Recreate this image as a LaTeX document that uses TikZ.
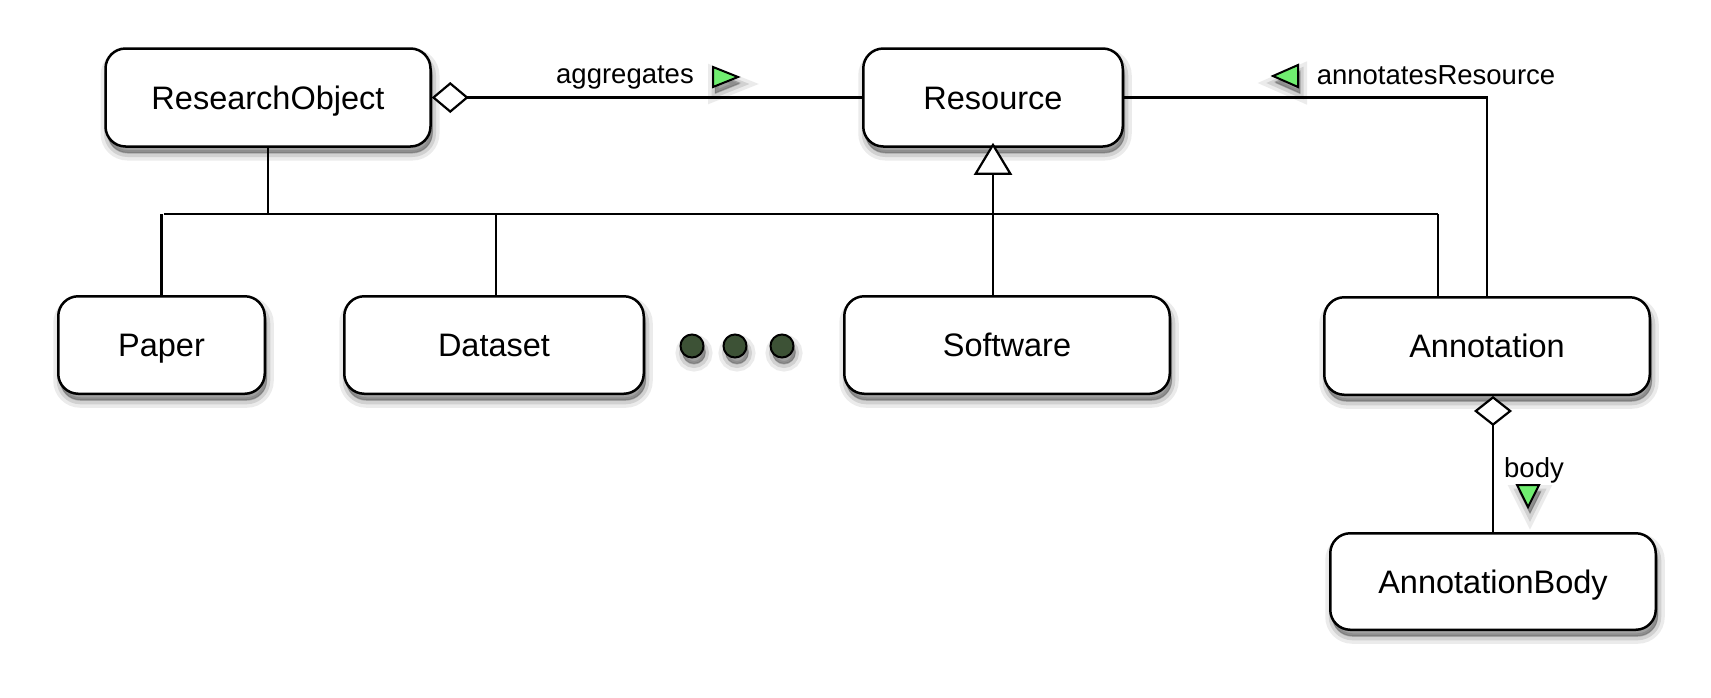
\documentclass[tikz,border=0pt]{standalone}
\usepackage{fontspec}
\setmainfont{Liberation Sans}
\usetikzlibrary{arrows.meta,shadows}
\definecolor{markgreen}{RGB}{112,238,112}
\definecolor{dotgreen}{RGB}{61,82,54}
\tikzset{
  shade/.style={
    drop shadow={shadow xshift=2pt, shadow yshift=-7pt, opacity=0.08, fill=black, draw=black, line width=14pt},
    drop shadow={shadow xshift=2pt, shadow yshift=-7pt, opacity=0.11, fill=black, draw=black, line width=7pt},
    drop shadow={shadow xshift=2pt, shadow yshift=-6pt, opacity=0.16, fill=black, draw=black, line width=1pt}},
  cls/.style={draw, line width=2.5pt, rounded corners=20pt, fill=white, shade,
    font=\fontsize{32.5}{38}\selectfont, text height=23.3pt, text depth=0pt, inner sep=0pt},
  conn/.style={draw, line width=2.2pt},
  lbl/.style={font=\fontsize{27.5}{32}\selectfont, text height=19.7pt, text depth=0pt, inner sep=0pt},
  marker/.style={draw, line width=2pt, fill=markgreen, line join=miter, shade},
  dot/.style={circle, draw, line width=2pt, fill=dotgreen, minimum size=23pt, inner sep=0pt, shade},
}
\begin{document}
\begin{tikzpicture}[x=1pt,y=-1pt]
\useasboundingbox[fill=white] (0,0) rectangle (1711,697);

\coordinate (busL) at (164,214);
\coordinate (busR) at (1438,214);

\node[cls, minimum width=325pt, minimum height=98pt] (ro) at (268,97.5) {ResearchObject};
\node[cls, minimum width=259.5pt, minimum height=98pt] (res) at (993,97.5) {Resource};
\node[cls, minimum width=206.5pt, minimum height=97.5pt] (paper) at (161.5,345) {Paper};
\node[cls, minimum width=299.5pt, minimum height=97.5pt] (dataset) at (494,345) {Dataset};
\node[cls, minimum width=325.5pt, minimum height=97.5pt] (sw) at (1007,345) {Software};
\node[cls, minimum width=325.5pt, minimum height=97.5pt] (ann) at (1487,346) {Annotation};
\node[cls, minimum width=325.5pt, minimum height=96.5pt] (body) at (1493,581.5) {AnnotationBody};

\node[dot] (d1) at (692,346) {};
\node[dot] (d2) at (735,346) {};
\node[dot] (d3) at (782,346) {};

% aggregation RO -> Resource
\draw[conn, {Diamond[length=37pt, width=31pt, fill=white]}-] (ro.east) -- (res.west);
% bus
\draw[conn] (busL) -- (busR);
\draw[conn] (ro.south) -- (ro.south |- busL);
\draw[conn] (paper.north) -- (paper.north |- busL);
\draw[conn] (dataset.north -| 496,0) -- (busL -| 496,0);
\draw[conn] (busR) -- (busR |- ann.north);
% generalization Software -> Resource
\draw[conn, -{Triangle[length=32pt, width=38pt, fill=white]}] (sw.north -| res.south) -- ([yshift=5pt]res.south);
% annotatesResource
\draw[conn] (res.east) -| (ann.north);
% body
\draw[conn, {Diamond[length=30pt, width=38pt, fill=white]}-] (ann.south -| body.north) -- (body.north);

% labels
\node[lbl] (aggL) at (625,74) {aggregates};
\node[lbl] (annL) at (1436,75) {annotatesResource};
\node[lbl] (bodyL) at (1534,468) {body};

% direction markers
\draw[marker] (713,67) -- (738,77) -- (713,87) -- cycle;
\draw[marker] (1298,65) -- (1273,76) -- (1298,87) -- cycle;
\draw[marker] (1517,485) -- (1539,485) -- (1528,507) -- cycle;
\end{tikzpicture}
\end{document}
